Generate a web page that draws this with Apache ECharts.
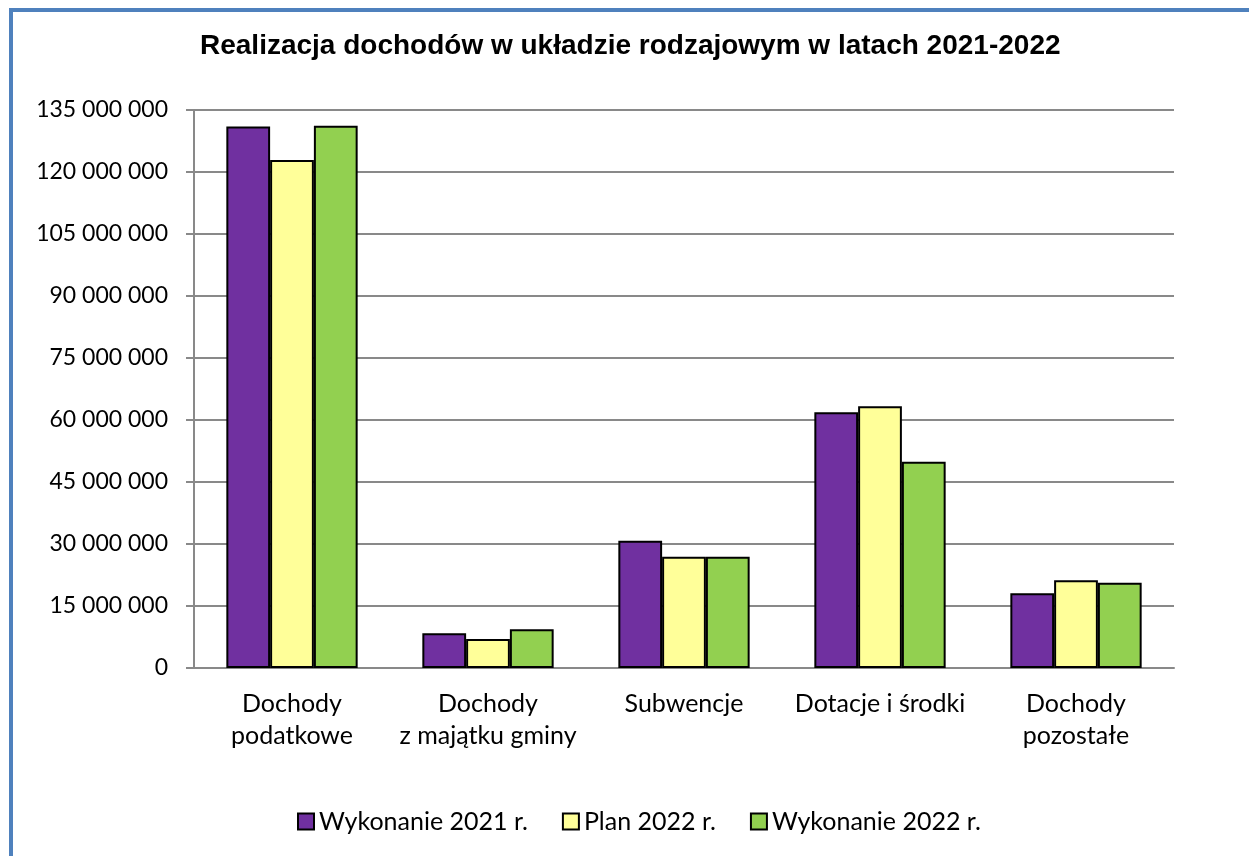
<!DOCTYPE html>
<html>
<head>
<meta charset="utf-8">
<script src="https://cdn.jsdelivr.net/npm/echarts@6/dist/echarts.min.js"></script>
<style>
html, body { margin: 0; padding: 0; background: #fff; }
#main { width: 1249px; height: 856px; }
</style>
</head>
<body>
<div id="main"></div>
<script>
var categories = ['Dochody\npodatkowe', 'Dochody\nz majątku gminy', 'Subwencje', 'Dotacje i środki', 'Dochody\npozostałe'];
var wyk2021 = [131000000, 8400000, 30800000, 61900000, 18100000];
var plan2022 = [122900000, 7000000, 26900000, 63300000, 21200000];
var wyk2022 = [131200000, 9400000, 26900000, 49900000, 20600000];
var yTicks = [0, 15000000, 135000000];

var myChart = echarts.init(document.getElementById('main'));

var labelFont = 'Lato, "Open Sans", sans-serif';

function fmt(v) {
    return String(v).replace(/\B(?=(\d{3})+(?!\d))/g, ' ');
}

var option = {
    backgroundColor: '#fff',
    animation: false,
    graphic: [{
        type: 'rect',
        shape: { x: 11, y: 10, width: 1300, height: 900 },
        style: { fill: 'none', stroke: '#4F81BD', lineWidth: 4 },
        silent: true
    }],
    title: {
        text: 'Realizacja dochodów w układzie rodzajowym w latach 2021-2022',
        left: 195,
        top: 27,
        textStyle: {
            fontFamily: '"Liberation Sans", Arial, sans-serif',
            fontWeight: 'bold',
            fontSize: 28,
            color: '#000'
        }
    },
    legend: {
        top: 804,
        left: 292,
        itemWidth: 16,
        itemHeight: 16,
        itemGap: 34,
        icon: 'rect',
        textStyle: { fontFamily: labelFont, fontSize: 25, color: '#000' },
        data: ['Wykonanie 2021 r.', 'Plan 2022 r.', 'Wykonanie 2022 r.']
    },
    grid: { left: 194, right: 75, top: 110, bottom: 188 },
    xAxis: {
        type: 'category',
        data: categories,
        axisLine: { lineStyle: { color: '#898989', width: 2 } },
        axisTick: { length: 8, lineStyle: { color: '#898989', width: 2 } },
        axisLabel: { interval: 0, margin: 20, fontFamily: labelFont, fontSize: 25, lineHeight: 32, color: '#000' }
    },
    yAxis: {
        type: 'value',
        min: yTicks[0],
        max: yTicks[2],
        interval: yTicks[1],
        axisLine: { show: true, lineStyle: { color: '#898989', width: 2 } },
        axisTick: { show: true, length: 8, lineStyle: { color: '#898989', width: 2 } },
        splitLine: { lineStyle: { color: '#898989', width: 2 } },
        axisLabel: { margin: 26, fontFamily: labelFont, fontSize: 23, color: '#000', formatter: fmt }
    },
    series: [{
        name: 'Wykonanie 2021 r.',
        type: 'bar',
        data: wyk2021,
        barGap: '0%',
        barCategoryGap: '33%',
        itemStyle: { color: '#7030A0', borderColor: '#000', borderWidth: 2 }
    }, {
        name: 'Plan 2022 r.',
        type: 'bar',
        data: plan2022,
        itemStyle: { color: '#FFFF99', borderColor: '#000', borderWidth: 2 }
    }, {
        name: 'Wykonanie 2022 r.',
        type: 'bar',
        data: wyk2022,
        itemStyle: { color: '#92D050', borderColor: '#000', borderWidth: 2 }
    }]
};

myChart.setOption(option);
</script>
</body>
</html>
